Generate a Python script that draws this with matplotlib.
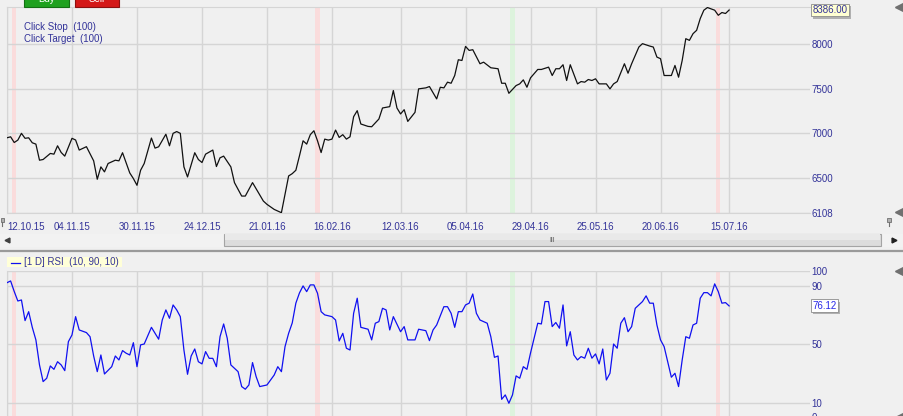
import matplotlib
matplotlib.use('Agg')
import matplotlib.pyplot as plt
from matplotlib.patches import Rectangle
from matplotlib.lines import Line2D
import matplotlib.transforms as mtrans
import matplotlib.patheffects as pe

plt.rcParams['font.family'] = ['Liberation Sans', 'DejaVu Sans']

# ---------------- data ----------------
date_labels = ['12.10.15', '04.11.15', '30.11.15', '24.12.15', '21.01.16', '16.02.16',
               '12.03.16', '05.04.16', '29.04.16', '25.05.16', '20.06.16', '15.07.16']
date_bars = [-1, 17, 35, 53, 71, 89, 108, 126, 144, 162, 180, 199]

price_bars = [-1, 0, 1, 2, 3, 4, 5, 6, 7, 8, 9, 11, 12, 13, 14, 15, 17, 18, 19, 21,
              23, 24, 25, 26, 27, 29, 30, 31, 33, 34, 35, 36, 37, 39, 40, 41, 43, 44, 45, 46,
              47, 48, 49, 51, 52, 53, 54, 56, 57, 58, 59, 61, 62, 64, 65, 67, 70, 71, 73, 75,
              77, 78, 79, 80, 81, 82, 83, 84, 85, 86, 87, 88, 89, 90, 91, 92, 93, 94, 95, 96,
              97, 99, 100, 102, 103, 105, 106, 107, 108, 109, 110, 112, 113, 115, 116, 118, 119, 120, 121, 122,
              123, 124, 125, 126, 127, 128, 130, 131, 133, 135, 136, 137, 138, 140, 141, 142, 143, 144, 146, 147,
              149, 150, 151, 152, 153, 154, 155, 157, 158, 159, 160, 161, 162, 163, 165, 166, 167, 168, 170, 171,
              172, 174, 175, 177, 178, 179, 180, 181, 183, 184, 185, 186, 187, 188, 189, 190, 191, 192, 193, 195,
              196, 197, 198, 199]
price_vals = [6950, 6961, 6897, 6924, 7000, 6944, 6950, 6894, 6879, 6698, 6706, 6774, 6766, 6860, 6785, 6744, 6944, 6925, 6812, 6850,
              6691, 6484, 6623, 6567, 6661, 6698, 6691, 6782, 6555, 6492, 6416, 6585, 6661, 6947, 6834, 6849, 6990, 6860, 7000, 7020,
              7000, 6623, 6510, 6782, 6706, 6672, 6766, 6812, 6627, 6725, 6744, 6623, 6446, 6295, 6295, 6446, 6239, 6202, 6145, 6108,
              6521, 6547, 6585, 6747, 6916, 6879, 6985, 7029, 6916, 6784, 6935, 6924, 6935, 7037, 6954, 6985, 6935, 6961, 7187, 7255,
              7105, 7078, 7074, 7161, 7285, 7300, 7481, 7285, 7218, 7266, 7134, 7236, 7500, 7511, 7526, 7387, 7518, 7511, 7575, 7563,
              7650, 7827, 7819, 7977, 7932, 7940, 7782, 7800, 7737, 7726, 7563, 7563, 7450, 7537, 7556, 7601, 7518, 7624, 7718, 7718,
              7744, 7650, 7726, 7726, 7771, 7594, 7771, 7556, 7582, 7575, 7605, 7594, 7613, 7556, 7556, 7500, 7556, 7582, 7782, 7676,
              7782, 7970, 8008, 7981, 7970, 7857, 7839, 7650, 7650, 7763, 7631, 7819, 8064, 8045, 8120, 8158, 8290, 8384, 8414, 8384,
              8327, 8358, 8347, 8386]

rsi_bars = [-1, 0, 1, 2, 3, 4, 5, 6, 7, 8, 9, 10, 11, 12, 13, 14, 15, 16, 17, 18,
            19, 21, 22, 23, 24, 25, 26, 28, 29, 30, 31, 32, 33, 34, 35, 36, 37, 39, 41, 42,
            43, 44, 45, 46, 47, 48, 49, 50, 51, 52, 53, 54, 55, 56, 57, 58, 59, 60, 61, 63,
            64, 65, 66, 67, 68, 69, 71, 72, 73, 74, 75, 76, 77, 78, 79, 80, 81, 82, 83, 84,
            85, 86, 87, 89, 90, 91, 92, 93, 94, 95, 96, 97, 99, 100, 101, 102, 103, 104, 105, 106,
            108, 109, 110, 112, 113, 115, 116, 117, 118, 120, 121, 122, 123, 124, 125, 126, 127, 128, 129, 130,
            132, 133, 134, 135, 136, 137, 138, 139, 140, 141, 142, 143, 144, 146, 147, 148, 149, 150, 151, 152,
            153, 154, 155, 156, 157, 158, 159, 160, 161, 162, 163, 164, 165, 166, 167, 168, 169, 170, 171, 172,
            173, 175, 176, 177, 178, 179, 180, 181, 183, 184, 185, 186, 187, 188, 189, 190, 191, 192, 193, 194,
            195, 196, 197, 198, 199]
rsi_vals = [92.0, 93.2, 86.0, 79.5, 80.2, 66.1, 72.2, 61.5, 52.9, 35.8, 24.4, 26.7, 35.1, 32.8, 38.0, 35.8, 31.9, 51.7, 56.3, 68.8,
            59.7, 57.9, 55.1, 41.9, 31.2, 42.6, 29.6, 34.6, 41.9, 39.2, 45.6, 43.8, 42.6, 51.0, 34.6, 49.5, 50.1, 61.5, 53.4, 66.5,
            73.4, 67.7, 76.8, 73.4, 68.8, 46.0, 29.4, 41.9, 46.7, 38.0, 36.5, 44.9, 40.3, 40.3, 34.6, 55.1, 63.8, 54.0, 35.8, 31.2,
            21.0, 19.2, 22.1, 37.4, 27.8, 21.0, 22.1, 25.5, 28.9, 34.6, 31.2, 48.3, 57.4, 64.5, 78.0, 85.0, 89.8, 85.9, 90.5, 90.5,
            84.8, 72.2, 70.0, 68.8, 66.5, 52.2, 57.4, 47.2, 46.0, 71.1, 81.4, 61.5, 60.2, 52.9, 64.3, 65.4, 74.5, 73.4, 59.7, 68.8,
            58.5, 62.0, 52.9, 52.9, 60.2, 59.2, 52.4, 59.7, 63.1, 75.6, 75.6, 71.1, 61.5, 72.2, 72.2, 76.8, 78.0, 84.3, 71.1, 66.5,
            64.3, 55.1, 41.0, 41.9, 12.3, 15.3, 9.6, 15.3, 28.3, 26.7, 34.6, 32.8, 44.0, 64.3, 63.8, 79.1, 79.1, 62.0, 64.8, 60.9,
            76.8, 48.8, 58.5, 42.6, 39.2, 41.5, 40.4, 47.2, 40.4, 43.3, 36.5, 46.7, 25.5, 30.1, 50.1, 47.2, 64.3, 68.1, 58.5, 62.0,
            74.5, 79.1, 83.0, 78.0, 78.0, 63.1, 52.9, 48.3, 27.4, 30.1, 21.0, 39.2, 55.1, 54.0, 63.1, 64.3, 81.4, 85.2, 85.2, 83.0,
            91.2, 85.9, 78.0, 78.4, 76.12]

signal_bars = [1, 85, 139, 196]
signal_kinds = ['sell', 'sell', 'buy', 'sell']
price_ticks = [6108, 6500, 7000, 7500, 8000]
rsi_ticks = [0, 10, 50, 90, 100]
price_last_label = '8386.00'
rsi_last_label = '76.12'
legend_lines = ['Click Stop  (100)', 'Click Target  (100)']
rsi_legend = '[1 D] RSI  (10, 90, 10)'

# ---------------- styling ----------------
W, H = 904, 416
BG = '#F0F0F0'
GRID = '#D5D5D5'
NAVY = '#333399'
FS = 7

fig = plt.figure(figsize=(W / 100, H / 100), dpi=100, facecolor=BG)


def fx(px):
    return px / W


def fy(py):
    return 1 - py / H


ax1 = fig.add_axes([fx(7), fy(212.7), fx(810) - fx(7), (212.7 - 7) / H])
ax2 = fig.add_axes([fx(7), fy(417.3), fx(810) - fx(7), (417.3 - 271) / H])

for ax in (ax1, ax2):
    ax.set_facecolor(BG)
    ax.set_xlim(-1, 221.4)
    ax.yaxis.tick_right()
    ax.tick_params(axis='y', length=0, pad=1.0, labelsize=FS, labelcolor=NAVY)
    ax.set_xticks(date_bars)
    ax.grid(True, color=GRID, lw=1.0, zorder=0)
    ax.set_axisbelow(True)
    for s in ax.spines.values():
        s.set_visible(False)
    ax.spines['left'].set_visible(True)
    ax.spines['left'].set_color(GRID)
    for b, k in zip(signal_bars, signal_kinds):
        ax.axvspan(b - 0.6, b + 0.6, color='#FADCDC' if k == 'sell' else '#DDF3DD', lw=0, zorder=0.5)

# price panel
ax1.set_ylim(6108, 8420)
ax1.set_yticks(price_ticks)
ax1.set_yticklabels([str(t) for t in price_ticks])
ax1.spines['top'].set_visible(True)
ax1.spines['top'].set_color(GRID)
ax1.spines['bottom'].set_visible(True)
ax1.spines['bottom'].set_color(GRID)
ax1.set_xticklabels(date_labels)
ax1.tick_params(axis='x', length=0, pad=6.5, labelsize=FS, labelcolor=NAVY)
ax1.get_xticklabels()[0].set_ha('left')
ax1.plot(price_bars, price_vals, color='#111111', lw=0.9, zorder=3)

# rsi panel
ax2.set_ylim(0, 100)
ax2.set_yticks(rsi_ticks)
ax2.set_yticklabels([str(t) for t in rsi_ticks])
ax2.tick_params(axis='x', length=0, labelbottom=False)
ax2.plot(rsi_bars, rsi_vals, color='#1010F0', lw=0.9, zorder=3)


# value boxes at the right, with a drop shadow on the box
def value_box(ax, yval, label, fc, tc):
    tr = mtrans.blended_transform_factory(ax.transAxes, ax.transData)
    main = mtrans.offset_copy(tr, fig=fig, x=2.5, y=0, units='dots')
    t = ax.text(1.0, yval, label, transform=main, fontsize=FS, color=tc, ha='left', va='center',
                bbox=dict(boxstyle='square,pad=0.15', fc=fc, ec='#8C8C8C', lw=0.6), clip_on=False, zorder=6)
    t.get_bbox_patch().set_path_effects([
        pe.SimplePatchShadow(offset=(1.5, -1.5), shadow_rgbFace='#B0B0B0', alpha=1.0),
        pe.Normal()])


value_box(ax1, price_vals[-1], price_last_label, '#FFFFD2', NAVY)
value_box(ax2, rsi_vals[-1], rsi_last_label, '#FFFFFF', '#2828E8')

# legend texts top panel
fig.text(fx(24), fy(26.5), legend_lines[0], fontsize=FS, color=NAVY, ha='left', va='center')
fig.text(fx(24), fy(39), legend_lines[1], fontsize=FS, color=NAVY, ha='left', va='center')

# RSI legend box
fig.patches.append(Rectangle((fx(7), fy(266.7)), fx(122) - fx(7), (266.7 - 256.5) / H,
                             transform=fig.transFigure, fc='#FFFFD8', ec='none', zorder=1))
fig.lines.append(Line2D([fx(10.5), fx(20.5)], [fy(262.5), fy(262.5)], transform=fig.transFigure,
                        color='#1010F0', lw=0.9))
fig.text(fx(24), fy(262), rsi_legend, fontsize=FS, color=NAVY, ha='left', va='center')

# Buy / Sell buttons (cut at top)
for x0, x1, fc, ec, lab in [(24, 69, '#1FA11F', '#137013', 'Buy'), (75, 119, '#D41818', '#8C1010', 'Sell')]:
    fig.patches.append(Rectangle((fx(x0), fy(6.7)), fx(x1) - fx(x0), 10 / H, transform=fig.transFigure,
                                 fc=fc, ec=ec, lw=0.8))
    fig.text(fx((x0 + x1) / 2), fy(-0.5), lab, fontsize=FS, color='white', ha='center', va='center')

# scrollbar
fig.patches.append(Rectangle((fx(0), fy(247)), 1, 13.5 / H, transform=fig.transFigure,
                             fc='#F2F2F2', ec='none'))
fig.patches.append(Rectangle((fx(224), fy(246.5)), fx(881.5) - fx(224), 12.5 / H, transform=fig.transFigure,
                             fc='#DCDCDC', ec='#A4A4A4', lw=0.8))
fig.patches.append(Rectangle((fx(225), fy(240)), fx(880.5) - fx(225), 5.5 / H, transform=fig.transFigure,
                             fc='#E9E9E9', ec='none'))
fig.text(fx(552), fy(240.5), 'III', fontsize=5, color='#555555', ha='center', va='center')
fig.lines.append(Line2D([fx(7)], [fy(240)], transform=fig.transFigure, marker='<', ms=3.5,
                        color='#404040', ls='none'))
fig.lines.append(Line2D([fx(894.5)], [fy(240)], transform=fig.transFigure, marker='>', ms=3.5,
                        color='#202020', ls='none'))
fig.lines.append(Line2D([0, 1], [fy(251.3), fy(251.3)], transform=fig.transFigure, color='#9A9A9A', lw=1.6))

# small triangles on right edge
for py in [7.3, 212.3, 271, 417]:
    fig.lines.append(Line2D([fx(899)], [fy(py)], transform=fig.transFigure, marker='<', ms=5.5,
                            color='#707070', ls='none'))

# pin icons
for px in [2.5, 889]:
    fig.patches.append(Rectangle((fx(px - 2), fy(222)), 4 / W, 4 / H, transform=fig.transFigure,
                                 fc='#B0B0B0', ec='#707070', lw=0.6))
    fig.lines.append(Line2D([fx(px), fx(px)], [fy(222), fy(226)], transform=fig.transFigure,
                            color='#707070', lw=0.8))

fig.savefig('out.png', dpi=100, facecolor=BG)
